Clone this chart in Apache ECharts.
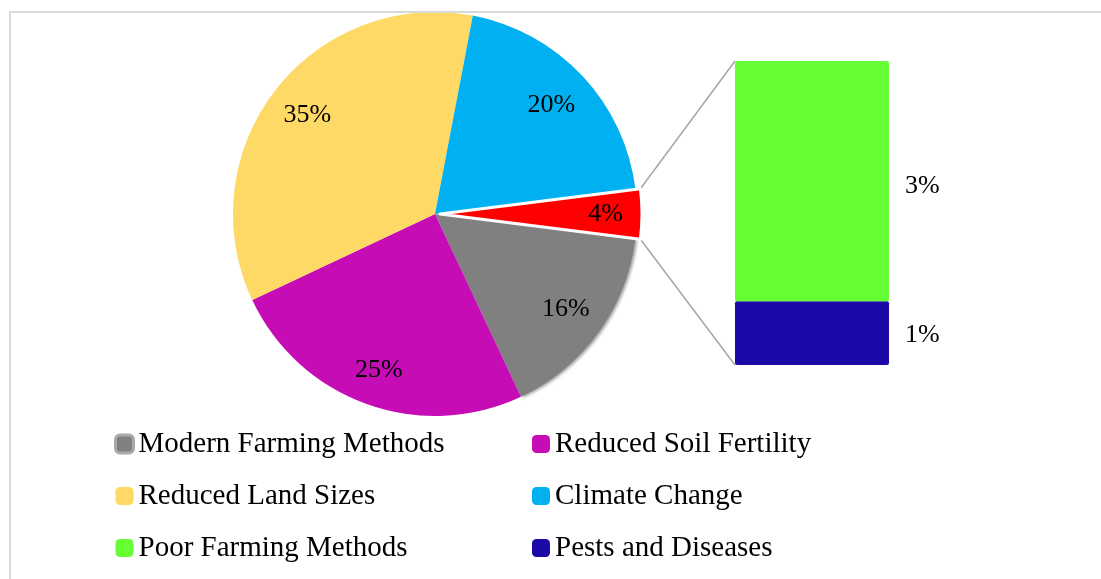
<!DOCTYPE html>
<html>
<head>
<meta charset="utf-8">
<script src="https://cdn.jsdelivr.net/npm/echarts@6/dist/echarts.min.js"></script>
<style>
html,body{margin:0;padding:0;background:#fff;}
#main{width:1101px;height:579px;}
</style>
</head>
<body>
<div id="main"></div>
<script>
// ---- data ----
const pieNames = ['Other', 'Modern Farming Methods', 'Reduced Soil Fertility', 'Reduced Land Sizes', 'Climate Change'];
const pieValues = [4, 16, 25, 35, 20];
const barNames = ['Pests and Diseases', 'Poor Farming Methods'];
const barValues = [0.84, 3.16];
const legendLeft = ['Modern Farming Methods', 'Reduced Land Sizes', 'Poor Farming Methods'];
const legendRight = ['Reduced Soil Fertility', 'Climate Change', 'Pests and Diseases'];

// ---- styles ----
const pieColors = ['#ff0000', '#808080', '#c60cb4', '#ffd966', '#00b0f0'];
const barColors = ['#1c0aa8', '#66ff33'];
const labelRatio = [0.82, 0.80, 0.82, 0.80, 0.79];
const FONT = '"Liberation Serif", "Times New Roman", serif';
const CX = 435, CY = 214, R = 202, OFFSET = 5;

const pieTotal = pieValues.reduce((a, b) => a + b, 0);
const barTotal = barValues.reduce((a, b) => a + b, 0);
const startAngle = pieValues[0] / pieTotal * 180;

// mid angles (radians, math convention) for labels
const midAngles = [];
(function () {
  let a = startAngle;
  pieValues.forEach(v => {
    const span = v / pieTotal * 360;
    midAngles.push((a - span / 2) * Math.PI / 180);
    a -= span;
  });
})();

const chart = echarts.init(document.getElementById('main'), null, {renderer: 'canvas'});

const legendCommon = {
  orient: 'vertical',
  top: 429,
  padding: 0,
  itemWidth: 18,
  itemHeight: 18,
  itemGap: 22,
  icon: 'roundRect',
  selectedMode: false,
  textStyle: {fontFamily: FONT, fontSize: 29, color: '#000', lineHeight: 30}
};

function pieSeries(isExploded) {
  const cx = isExploded ? CX + OFFSET : CX;
  return {
    type: 'pie',
    center: [cx, CY],
    radius: R,
    startAngle: startAngle,
    clockwise: true,
    avoidLabelOverlap: false,
    emphasis: {disabled: true},
    silent: true,
    label: {
      show: true,
      position: 'inside',
      fontFamily: FONT,
      fontSize: 26,
      color: '#000',
      formatter: p => p.value + '%'
    },
    labelLine: {show: false},
    labelLayout: function (params) {
      const i = params.dataIndex;
      const d = labelRatio[i] * R;
      return {
        x: cx + d * Math.cos(midAngles[i]),
        y: CY - d * Math.sin(midAngles[i]),
        align: 'center',
        verticalAlign: 'middle'
      };
    },
    data: pieNames.map((n, i) => {
      const visible = isExploded ? i === 0 : i !== 0;
      const item = {
        name: n,
        value: pieValues[i],
        itemStyle: {color: visible ? pieColors[i] : 'rgba(0,0,0,0)'},
        label: {show: visible}
      };
      if (visible && i === 0) {
        item.itemStyle.borderColor = '#ffffff';
        item.itemStyle.borderWidth = 3;
      }
      if (visible && i === 1) {
        item.itemStyle.shadowColor = 'rgba(0,0,0,0.35)';
        item.itemStyle.shadowBlur = 3;
        item.itemStyle.shadowOffsetX = 2;
        item.itemStyle.shadowOffsetY = 1;
      }
      return item;
    })
  };
}

const option = {
  animation: false,
  backgroundColor: '#fff',
  legend: [
    Object.assign({}, legendCommon, {left: 114, data: legendLeft.map(n => n === 'Modern Farming Methods' ? {name: n, itemStyle: {borderColor: '#a9a9a9', borderWidth: 3}} : n)}),
    Object.assign({}, legendCommon, {left: 532, data: legendRight})
  ],
  grid: {left: 735, top: 61, width: 154, height: 304},
  xAxis: {type: 'category', data: ['Other'], show: false},
  yAxis: {type: 'value', min: 0, max: barTotal, show: false},
  series: [pieSeries(false), pieSeries(true)].concat(barNames.map((n, i) => ({
    type: 'bar',
    name: n,
    stack: 'other',
    barWidth: '100%',
    data: [barValues[i]],
    itemStyle: {color: barColors[i], borderRadius: 2},
    emphasis: {disabled: true},
    label: {
      show: true,
      position: 'right',
      distance: 16,
      offset: [0, i === 1 ? 5 : 2],
      fontFamily: FONT,
      fontSize: 26,
      color: '#000',
      formatter: p => Math.round(p.value) + '%'
    }
  })))
};

chart.setOption(option);

// connector lines from exploded slice to bar
const h = pieValues[0] / pieTotal * Math.PI;
const sliceTop = [CX + OFFSET + R * Math.cos(h), CY - R * Math.sin(h)];
const sliceBot = [CX + OFFSET + R * Math.cos(h), CY + R * Math.sin(h)];
const rect = chart.getModel().getComponent('grid', 0).coordinateSystem.getRect();
const yTop = chart.convertToPixel({gridIndex: 0}, ['Other', barTotal])[1];
const yBot = chart.convertToPixel({gridIndex: 0}, ['Other', 0])[1];

chart.setOption({
  graphic: [
    {type: 'line', z: 1, shape: {x1: sliceTop[0], y1: sliceTop[1], x2: rect.x, y2: yTop}, style: {stroke: '#a6a6a6', lineWidth: 1.5}},
    {type: 'line', z: 1, shape: {x1: sliceBot[0], y1: sliceBot[1], x2: rect.x, y2: yBot}, style: {stroke: '#a6a6a6', lineWidth: 1.5}},
    {type: 'rect', z: 100, silent: true, shape: {x: 10, y: 12, width: 1200, height: 700}, style: {fill: 'none', stroke: '#d9d9d9', lineWidth: 2}}
  ]
});
</script>
</body>
</html>
